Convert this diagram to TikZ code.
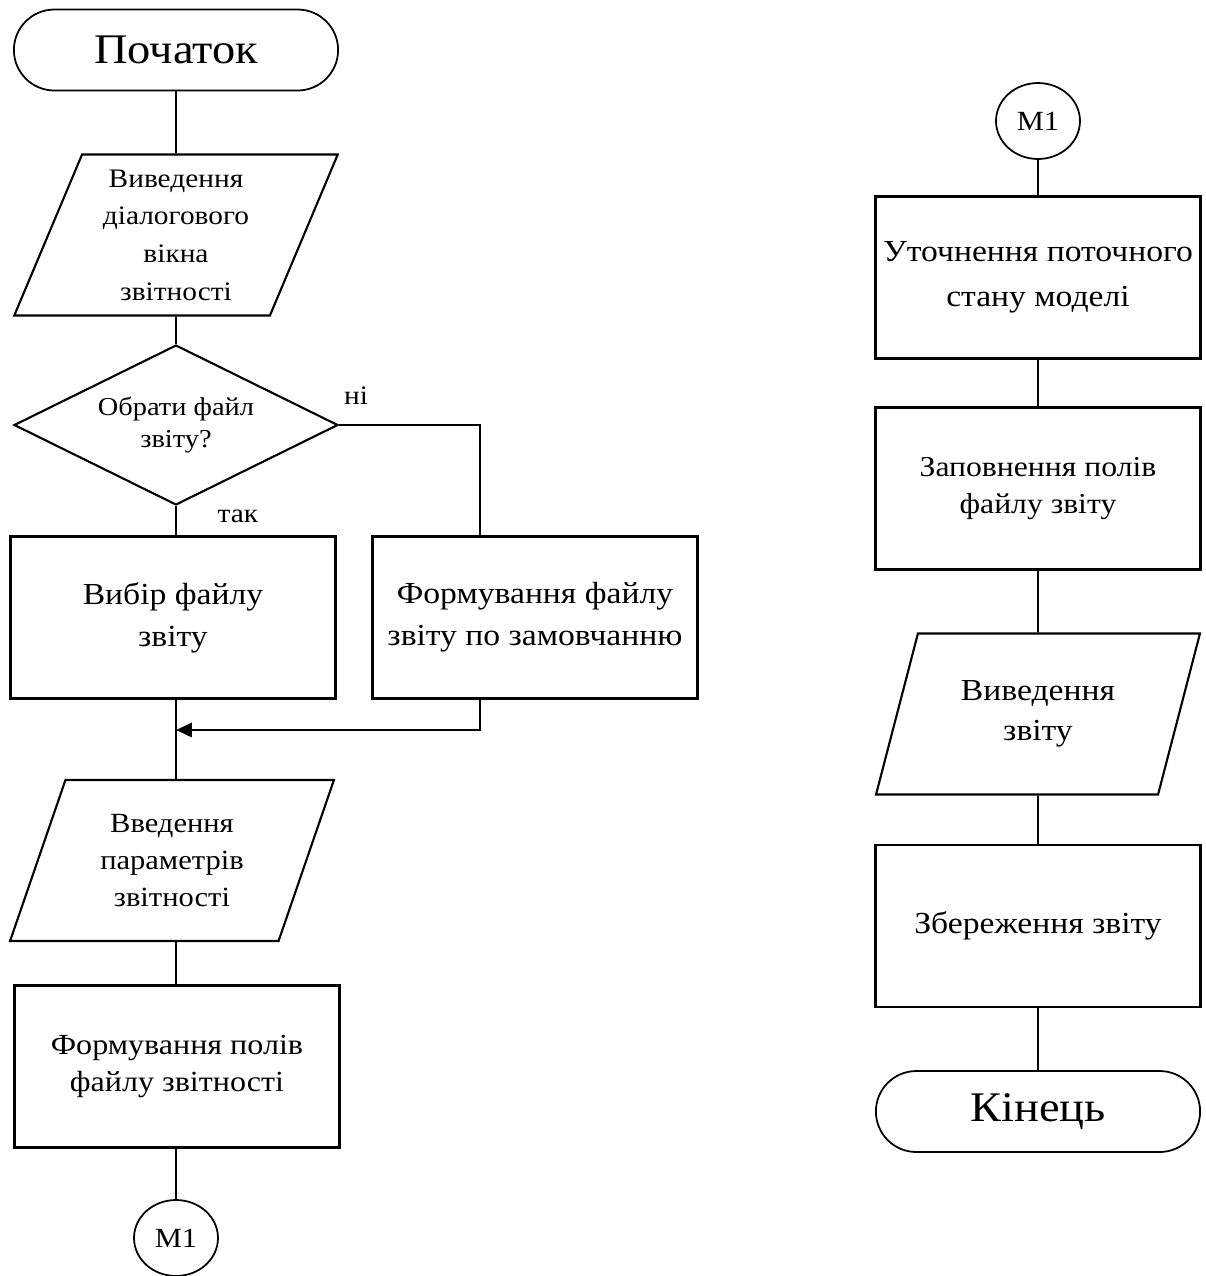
\documentclass[tikz,border=0pt]{standalone}
\usepackage{fontspec}
\setmainfont{Liberation Serif}[FakeStretch=1.1]
\usetikzlibrary{shapes.geometric,shapes.misc,arrows.meta}

\newcommand{\txtsize}[2]{\fontsize{#1}{#2}\selectfont}

\tikzset{
  procbox/.style={draw, rectangle, line width=1.2pt, minimum width=6.5cm, minimum height=3.24cm, align=center, inner sep=1pt},
  iobox/.style={draw, trapezium, trapezium left angle=68, trapezium right angle=112, trapezium stretches=true,
    line width=1.2pt, minimum width=6.48cm, minimum height=3.22cm, align=center, inner sep=0pt},
  decision/.style={draw, diamond, aspect=2, line width=1.2pt, minimum width=6.48cm, minimum height=3.2cm, align=center, inner sep=0pt},
  terminal/.style={draw, rounded rectangle, line width=1pt, minimum width=6.72cm, minimum height=1.62cm},
  pageref/.style={draw, ellipse, line width=1pt, minimum width=1.68cm, minimum height=1.52cm, inner sep=0pt},
  flow/.style={line width=1pt},
}

\begin{document}
\begin{tikzpicture}[x=0.02cm, y=-0.02cm]
    \useasboundingbox (0,0) rectangle (1206,1276);

    % left column
    \node[terminal, font=\txtsize{24}{28}] (start) at (176,50) {Початок};
    \node[iobox, font=\txtsize{15.2}{21.4}] (dialog) at (176,235) {Виведення\\діалогового\\вікна\\звітності};
    \node[decision, font=\txtsize{14.7}{18.7}] (choose) at (176,425) {Обрати файл\\звіту?};
    \node[procbox, font=\txtsize{17.4}{24}] (pick) at (173,617.5) {Вибір файлу\\звіту};
    \node[procbox, font=\txtsize{17.4}{24}] (default) at (535,617.5) {Формування файлу\\звіту по замовчанню};
    \node[iobox, font=\txtsize{15.8}{21}] (params) at (172,860.5) {Введення\\параметрів\\звітності};
    \node[procbox, font=\txtsize{16.6}{21}] (fields) at (177,1066.5) {Формування полів\\файлу звітності};
    \node[pageref, font=\txtsize{15.8}{17}] (mA) at (176,1238) {M1};
    \coordinate (merge) at (176,730);

    \node[font=\txtsize{15.2}{16}] (no) at (356,396) {ні};
    \node[font=\txtsize{15.2}{16}] (yes) at (238,516) {так};

    \draw[flow] (start) -- (dialog);
    \draw[flow] (dialog) -- (choose);
    \draw[flow] (choose.south) -- (choose.south |- pick.north);
    \draw[flow] (choose.east) -| ([xshift=-1.1cm]default.north);
    \draw[flow] (choose.south |- pick.south) -- (choose.south |- params.north);
    \draw[line width=1.6pt, -{Triangle[length=9pt,width=8pt]}] ([xshift=-1.1cm]default.south) |- (merge);
    \draw[flow] (mA |- params.south) -- (mA |- fields.north);
    \draw[flow] (mA |- fields.south) -- (mA);

    % right column
    \node[pageref, font=\txtsize{15.8}{17}] (mB) at (1038,121) {M1};
    \node[procbox, font=\txtsize{17.4}{25.5}, inner sep=0pt] (refine) at (1038,277.5) {Уточнення поточного\\стану моделі};
    \node[procbox, font=\txtsize{16.4}{21}] (fill) at (1038,488.5) {Заповнення полів\\файлу звіту};
    \node[iobox, font=\txtsize{17.4}{22.7}] (output) at (1038,714) {Виведення\\звіту};
    \node[procbox, font=\txtsize{17.4}{20}] (save) at (1038,926) {Збереження звіту};
    \node[terminal, font=\txtsize{24}{28}] (finish) at (1038,1111.5) {Кінець};

    \draw[flow] (mB) -- (refine);
    \draw[flow] (refine) -- (fill);
    \draw[flow] (fill) -- (output);
    \draw[flow] (output) -- (save);
    \draw[flow] (save) -- (finish);
\end{tikzpicture}
\end{document}
